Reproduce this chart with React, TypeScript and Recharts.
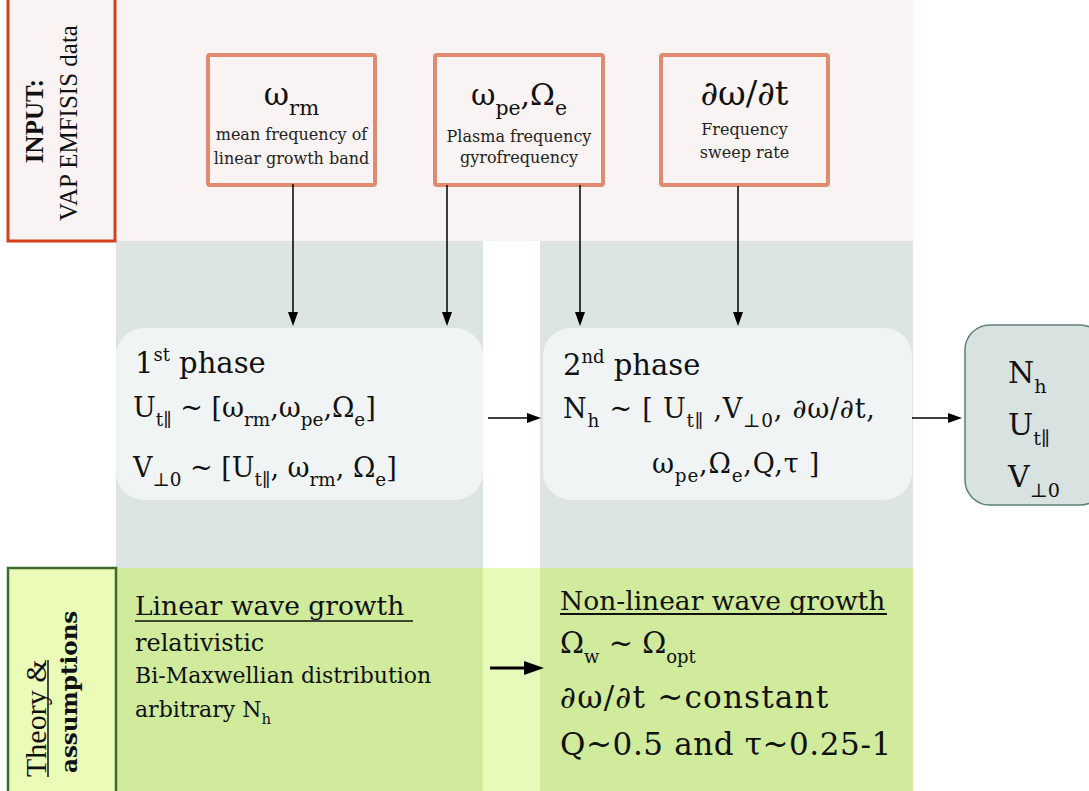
import { ComposedChart, XAxis, YAxis, ReferenceArea, ReferenceLine } from 'recharts';

const W = 1089;
const H = 791;
const SERIF = '"DejaVu Serif", serif';
const TIMES = '"Liberation Serif", serif';

type Seg = string | [string, 'sub' | 'sup'];

// background regions of the diagram (diagram units, y grows downwards)
const BANDS = [
  { id: 'input', x1: 115, x2: 913, y1: 0, y2: 241 },
  { id: 'col', x1: 116, x2: 483, y1: 241, y2: 568 },
  { id: 'col', x1: 540, x2: 913, y1: 241, y2: 568 },
  { id: 'gap', x1: 483, x2: 540, y1: 568, y2: 791 },
  { id: 'green', x1: 115, x2: 483, y1: 568, y2: 791 },
  { id: 'green', x1: 540, x2: 913, y1: 568, y2: 791 },
];

// input parameter boxes
const INPUT_X = [[208, 375], [435, 603], [661, 828]];
const INPUT_Y = [55, 185];
const INPUT_HEADS: Seg[][] = [
  ['ω', ['rm', 'sub']],
  ['ω', ['pe', 'sub'], ',Ω', ['e', 'sub']],
  ['∂ω/∂t'],
];
const INPUT_HEAD_SIZE = [31, 30, 34];
const INPUT_LINES = [
  ['mean frequency of', 'linear growth band'],
  ['Plasma frequency', 'gyrofrequency'],
  ['Frequency', 'sweep rate'],
];
const INPUT_LINE_Y = [[85, 109], [87, 108], [80, 103]];

// phase boxes
const PHASE_X = [[116, 483], [543, 912]];
const PHASE_Y = [328, 500];
const PHASE_TITLES: Seg[][] = [
  ['1', ['st', 'sup'], ' phase'],
  ['2', ['nd', 'sup'], ' phase'],
];
const PHASE_LINES: Seg[][][] = [
  [
    ['U', ['t∥', 'sub'], ' ~ [ω', ['rm', 'sub'], ',ω', ['pe', 'sub'], ',Ω', ['e', 'sub'], ']'],
    ['V', ['⊥0', 'sub'], ' ~ [U', ['t∥', 'sub'], ', ω', ['rm', 'sub'], ', Ω', ['e', 'sub'], ']'],
  ],
  [
    ['N', ['h', 'sub'], ' ~ [ U', ['t∥', 'sub'], ' ,V', ['⊥0', 'sub'], ', ∂ω/∂t,'],
    ['ω', ['pe', 'sub'], ',Ω', ['e', 'sub'], ',Q,τ ]'],
  ],
];
const PHASE_LINE_POS = [
  [[19, 45], [17, 89], [17, 149]],
  [[20, 47], [20, 90], [109, 145]],
];
const PHASE_SPACING = [[0, 0], [0.8, 0.8]];

// output box
const OUT_X = [965, 1105];
const OUT_Y = [325, 505];
const OUT_LINES: Seg[][] = [
  ['N', ['h', 'sub']],
  ['U', ['t∥', 'sub']],
  ['V', ['⊥0', 'sub']],
];
const OUT_LINE_Y = [58, 110, 162];

// theory panels
const LINEAR_TITLE = 'Linear wave growth';
const LINEAR_LINES: Seg[][] = [['relativistic'], ['Bi-Maxwellian distribution'], ['arbitrary N', ['h', 'sub']]];
const LINEAR_SIZE = [24, 22, 22];
const NONLIN_TITLE = 'Non-linear wave growth';
const NONLIN_LINES: Seg[][] = [['Ω', ['w', 'sub'], ' ~ Ω', ['opt', 'sub']], ['∂ω/∂t ~constant'], ['Q~0.5 and τ~0.25-1']];
const NONLIN_SIZE = [29, 31, 31];
const NONLIN_SPACING = [0, 1.2, 0.6];

// arrows [x1, y1, x2, y2, thick]
const ARROWS = [
  [293, 184, 293, 326, 0],
  [447, 185, 447, 326, 0],
  [580, 185, 580, 326, 0],
  [738, 186, 738, 326, 0],
  [488, 418, 541, 418, 0],
  [912, 418, 962, 418, 0],
  [490, 668, 544, 668, 1],
];

const BAND_FILL: Record<string, string> = {
  input: '#f9f4f3',
  col: '#dce4e4',
  gap: '#e6fab9',
  green: '#cfeb9b',
};

function Rich({ x, y, segs, size, ratio = 0.68, anchor = 'start', family = SERIF, weight, spacing = 0 }: any) {
  let cur = 0;
  return (
    <text x={x} y={y} fontSize={size} fontFamily={family} textAnchor={anchor} fill="#111" fontWeight={weight} letterSpacing={spacing}>
      {segs.map((s: Seg, i: number) => {
        const [t, kind] = typeof s === 'string' ? [s, ''] : s;
        const target = kind === 'sub' ? size * 0.33 : kind === 'sup' ? -size * 0.4 : 0;
        const dy = target - cur;
        cur = target;
        return (
          <tspan key={i} dy={dy} fontSize={kind ? size * ratio : size}>
            {t}
          </tspan>
        );
      })}
    </text>
  );
}

const arrowShape = (thick: boolean) => (p: any) => {
  const { x1, y1, x2, y2 } = p;
  const head = thick ? 20 : 14;
  const half = thick ? 7 : 5;
  const L = Math.hypot(x2 - x1, y2 - y1) || 1;
  const ux = (x2 - x1) / L;
  const uy = (y2 - y1) / L;
  const bx = x2 - ux * head;
  const by = y2 - uy * head;
  return (
    <g>
      <line x1={x1} y1={y1} x2={bx} y2={by} stroke="#000" strokeWidth={thick ? 3 : 1.5} />
      <polygon
        points={`${x2},${y2} ${bx - uy * half},${by + ux * half} ${bx + uy * half},${by - ux * half}`}
        fill="#000"
      />
    </g>
  );
};

export default function App() {
  return (
    <div style={{ position: 'absolute', left: 0, top: 0, background: '#fff' }}>
      <ComposedChart width={W} height={H} margin={{ top: 0, right: 0, bottom: 0, left: 0 }} data={[]}>
        <XAxis type="number" dataKey="x" domain={[0, W]} allowDataOverflow hide />
        <YAxis type="number" dataKey="y" domain={[0, H]} allowDataOverflow reversed hide />

        {BANDS.map((b, i) => (
          <ReferenceArea
            key={'b' + i}
            x1={b.x1}
            x2={b.x2}
            y1={b.y1}
            y2={b.y2}
            ifOverflow="visible"
            shape={(p: any) => <rect x={p.x} y={p.y} width={p.width} height={p.height} fill={BAND_FILL[b.id]} />}
          />
        ))}

        {/* INPUT label box */}
        <ReferenceArea
          x1={8}
          x2={115}
          y1={-3}
          y2={241}
          ifOverflow="visible"
          shape={(p: any) => {
            const cy = p.y + p.height / 2 + 2;
            return (
              <g>
                <rect x={p.x} y={p.y} width={p.width} height={p.height} fill="#f9f4f3" stroke="#d3401c" strokeWidth={3} />
                <text x={p.x + 35} y={cy} transform={`rotate(-90 ${p.x + 35} ${cy})`} textAnchor="middle" fontFamily={TIMES} fontWeight="bold" fontSize={25} fill="#111">
                  INPUT:
                </text>
                <text x={p.x + 69} y={cy + 2} transform={`rotate(-90 ${p.x + 69} ${cy + 2})`} textAnchor="middle" fontFamily={TIMES} fontSize={25} fill="#111">
                  VAP EMFISIS data
                </text>
              </g>
            );
          }}
        />

        {INPUT_X.map(([a, b], i) => (
          <ReferenceArea
            key={'in' + i}
            x1={a}
            x2={b}
            y1={INPUT_Y[0]}
            y2={INPUT_Y[1]}
            ifOverflow="visible"
            shape={(p: any) => {
              const cx = p.x + p.width / 2;
              return (
                <g>
                  <rect x={p.x} y={p.y} width={p.width} height={p.height} rx={2} fill="#f9f4f3" stroke="#e08a70" strokeWidth={4} />
                  <Rich x={cx} y={p.y + 50} segs={INPUT_HEADS[i]} size={INPUT_HEAD_SIZE[i]} anchor="middle" />
                  {INPUT_LINES[i].map((t, j) => (
                    <text key={j} x={cx} y={p.y + INPUT_LINE_Y[i][j]} textAnchor="middle" fontFamily={SERIF} fontSize={16} fill="#222">
                      {t}
                    </text>
                  ))}
                </g>
              );
            }}
          />
        ))}

        {PHASE_X.map(([a, b], i) => (
          <ReferenceArea
            key={'ph' + i}
            x1={a}
            x2={b}
            y1={PHASE_Y[0]}
            y2={PHASE_Y[1]}
            ifOverflow="visible"
            shape={(p: any) => (
              <g>
                <rect x={p.x} y={p.y} width={p.width} height={p.height} rx={28} fill="#f0f4f4" />
                <Rich x={p.x + PHASE_LINE_POS[i][0][0]} y={p.y + PHASE_LINE_POS[i][0][1]} segs={PHASE_TITLES[i]} size={29} ratio={0.62} />
                {PHASE_LINES[i].map((segs, j) => (
                  <Rich
                    key={j}
                    x={p.x + PHASE_LINE_POS[i][j + 1][0]}
                    y={p.y + PHASE_LINE_POS[i][j + 1][1]}
                    segs={segs}
                    size={27}
                    spacing={PHASE_SPACING[i][j]}
                  />
                ))}
              </g>
            )}
          />
        ))}

        <ReferenceArea
          x1={OUT_X[0]}
          x2={OUT_X[1]}
          y1={OUT_Y[0]}
          y2={OUT_Y[1]}
          ifOverflow="visible"
          shape={(p: any) => (
            <g>
              <rect x={p.x} y={p.y} width={p.width} height={p.height} rx={25} fill="#d8e2e0" stroke="#5f7f78" strokeWidth={1.5} />
              {OUT_LINES.map((segs, j) => (
                <Rich key={j} x={p.x + 43} y={p.y + OUT_LINE_Y[j]} segs={segs} size={30} ratio={0.64} />
              ))}
            </g>
          )}
        />

        {/* Theory label box */}
        <ReferenceArea
          x1={8}
          x2={116}
          y1={568}
          y2={800}
          ifOverflow="visible"
          shape={(p: any) => (
            <g>
              <rect x={p.x} y={p.y} width={p.width} height={p.height} fill="#eafcb8" stroke="#3d6a2e" strokeWidth={2.5} />
              <text x={p.x + 38} y={p.y + 209} transform={`rotate(-90 ${p.x + 38} ${p.y + 209})`} fontFamily={TIMES} fontSize={30} fill="#111">
                Theory &amp;
              </text>
              <line x1={p.x + 40} x2={p.x + 40} y1={p.y + 209} y2={p.y + 92} stroke="#111" strokeWidth={1.5} />
              <text x={p.x + 69} y={p.y + 205} transform={`rotate(-90 ${p.x + 69} ${p.y + 205})`} fontFamily={SERIF} fontWeight="bold" fontSize={23} fill="#111">
                assumptions
              </text>
            </g>
          )}
        />

        <ReferenceArea
          x1={115}
          x2={483}
          y1={568}
          y2={791}
          ifOverflow="visible"
          shape={(p: any) => (
            <g>
              <text x={p.x + 20} y={p.y + 47} fontFamily={SERIF} fontSize={26.5} fill="#111">
                {LINEAR_TITLE}
              </text>
              <line x1={p.x + 20} x2={p.x + 298} y1={p.y + 53} y2={p.y + 53} stroke="#111" strokeWidth={1.5} />
              {LINEAR_LINES.map((segs, j) => (
                <Rich key={j} x={p.x + 20} y={p.y + [83, 115, 149][j]} segs={segs} size={LINEAR_SIZE[j]} />
              ))}
            </g>
          )}
        />

        <ReferenceArea
          x1={540}
          x2={913}
          y1={568}
          y2={791}
          ifOverflow="visible"
          shape={(p: any) => (
            <g>
              <text x={p.x + 20} y={p.y + 42} fontFamily={SERIF} fontSize={26.5} fill="#111">
                {NONLIN_TITLE}
              </text>
              <line x1={p.x + 20} x2={p.x + 347} y1={p.y + 46} y2={p.y + 46} stroke="#111" strokeWidth={2} />
              {NONLIN_LINES.map((segs, j) => (
                <Rich
                  key={j}
                  x={p.x + 20}
                  y={p.y + [85, 140, 187][j]}
                  segs={segs}
                  size={NONLIN_SIZE[j]}
                  ratio={0.62}
                  spacing={NONLIN_SPACING[j]}
                />
              ))}
            </g>
          )}
        />

        {ARROWS.map(([x1, y1, x2, y2, thick], i) => (
          <ReferenceLine
            key={'a' + i}
            segment={[
              { x: x1, y: y1 },
              { x: x2, y: y2 },
            ]}
            ifOverflow="visible"
            shape={arrowShape(!!thick)}
          />
        ))}
      </ComposedChart>
    </div>
  );
}
